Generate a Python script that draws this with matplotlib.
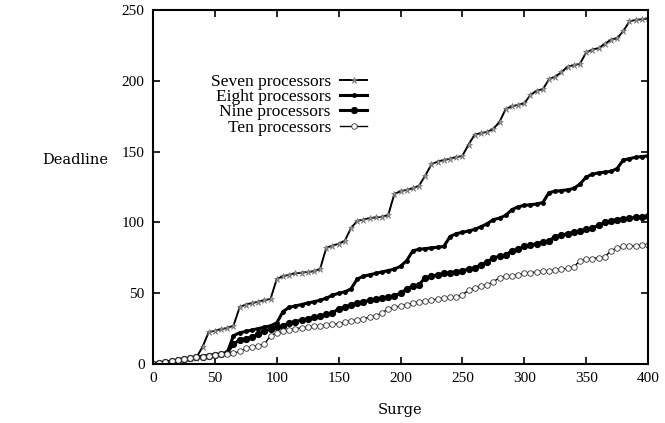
import matplotlib
matplotlib.use("Agg")
import matplotlib.pyplot as plt
import numpy as np

# surge values (x) every 5 units
surge = np.arange(0, 405, 5)

seven = [0, 0.7, 1.3, 2, 2.6, 3.3, 4, 4.5, 12, 22.5, 23.5, 24.5, 25.5, 27, 40, 42, 43, 44, 45, 46,
         60, 62, 63, 64, 64.5, 65, 65.5, 67, 82, 83.5, 85, 87, 96, 101, 102, 103, 103.5, 104, 105, 120,
         122, 123, 124, 126, 133, 141, 143, 144, 145, 146, 147, 155, 162, 163, 164, 166, 171, 180, 182, 183,
         184, 190, 193, 194, 201, 203, 206, 210, 211, 212, 220, 222, 223, 226, 229, 230, 235, 242, 243, 243.5,
         244]

eight = [0, 0.7, 1.3, 2, 2.6, 3.3, 4, 4.6, 5.2, 5.8, 6.4, 7, 8, 20, 22, 23, 24, 25, 26, 27,
         29, 37, 40, 41, 42, 43, 44, 45, 46.5, 48.5, 50, 51, 53, 60, 62, 63, 64, 65, 66, 67,
         69, 73, 80, 81, 81.5, 82, 82.5, 83, 90, 92, 93, 94, 95, 97, 99, 102, 103, 105, 109, 111,
         112, 112.5, 113, 114, 121, 122, 122.5, 123, 124, 127, 132, 134, 135, 135.5, 136, 138, 144, 145, 146, 146.5,
         147]

nine = [0, 0.7, 1.3, 2, 2.6, 3.3, 4, 4.6, 5.2, 5.8, 6.4, 7, 8, 14, 17, 18, 19, 21, 23, 25,
        26, 27, 29, 30, 31, 32, 33, 34, 35, 36, 39, 40, 42, 43, 44, 45, 46, 46.5, 47.5, 48,
        50, 53, 55, 56, 61, 62, 63, 64, 64.5, 65, 66, 67, 68, 70, 72, 75, 76, 77, 80, 81,
        83, 84, 85, 86, 87, 90, 91, 92, 93, 94, 95, 96, 98, 100, 101, 102, 102.5, 103, 103.5, 104,
        104.5]

ten = [0, 0.7, 1.3, 2, 2.6, 3.3, 4, 4.6, 5.2, 5.8, 6.4, 6.8, 7.2, 7.5, 9, 11, 12, 13, 14, 20,
       22, 23, 24, 25, 25.5, 26, 26.5, 27, 27.5, 28, 28.5, 29.5, 30.5, 31, 32, 33, 34, 36, 39, 40,
       41, 42, 43, 44, 44.5, 45, 46, 46.5, 47, 47.5, 49, 52, 54, 55, 56, 58, 61, 62, 62.5, 63,
       64, 64.5, 65, 65.5, 66, 66.5, 67, 67.5, 68.5, 73, 74, 74.5, 75, 75.5, 80, 82, 83, 83, 83.5, 84,
       84]

labels = ["Seven processors", "Eight processors", "Nine processors", "Ten processors"]

plt.rcParams['font.family'] = ['Liberation Serif', 'DejaVu Serif']

fig = plt.figure(figsize=(6.65, 4.23), dpi=100)
ax = fig.add_axes([153 / 665, 59 / 423, 495 / 665, 354 / 423])

ax.plot(surge, seven, color="black", lw=1.4, marker="*", ms=5,
        mfc="#999999", mec="#666666", mew=0.4, label=labels[0])
ax.plot(surge, eight, color="black", lw=2.2, marker="o", ms=2.5, label=labels[1])
ax.plot(surge, nine, color="black", lw=2.2, marker="o", ms=4.2, label=labels[2])
ax.plot(surge, ten, color="black", lw=1.0, marker="o", ms=4, mfc="white",
        mec="#333333", mew=0.6, label=labels[3])

ax.set_xlim(0, 400)
ax.set_ylim(0, 250)
ax.set_xticks(np.arange(0, 401, 50))
ax.set_yticks(np.arange(0, 251, 50))
ax.tick_params(direction="in", length=5, width=1.2, top=True, right=True,
               labelsize=11, pad=6)
for s in ax.spines.values():
    s.set_linewidth(1.5)

leg = ax.legend(loc="upper right", bbox_to_anchor=(376 / 665, 1 - 65 / 423),
                bbox_transform=fig.transFigure, frameon=False, markerfirst=False,
                fontsize=12.5, handlelength=1.55, handletextpad=0.55,
                labelspacing=-0.05, borderpad=0, markerscale=1.0)

fig.text(75 / 665, 1 - 160 / 423, "Deadline", ha="center", va="center",
         fontsize=10.5, family="DejaVu Serif")
fig.text(400 / 665, 1 - 410 / 423, "Surge", ha="center", va="center",
         fontsize=10.5, family="DejaVu Serif")

fig.savefig("out.png", dpi=100)
